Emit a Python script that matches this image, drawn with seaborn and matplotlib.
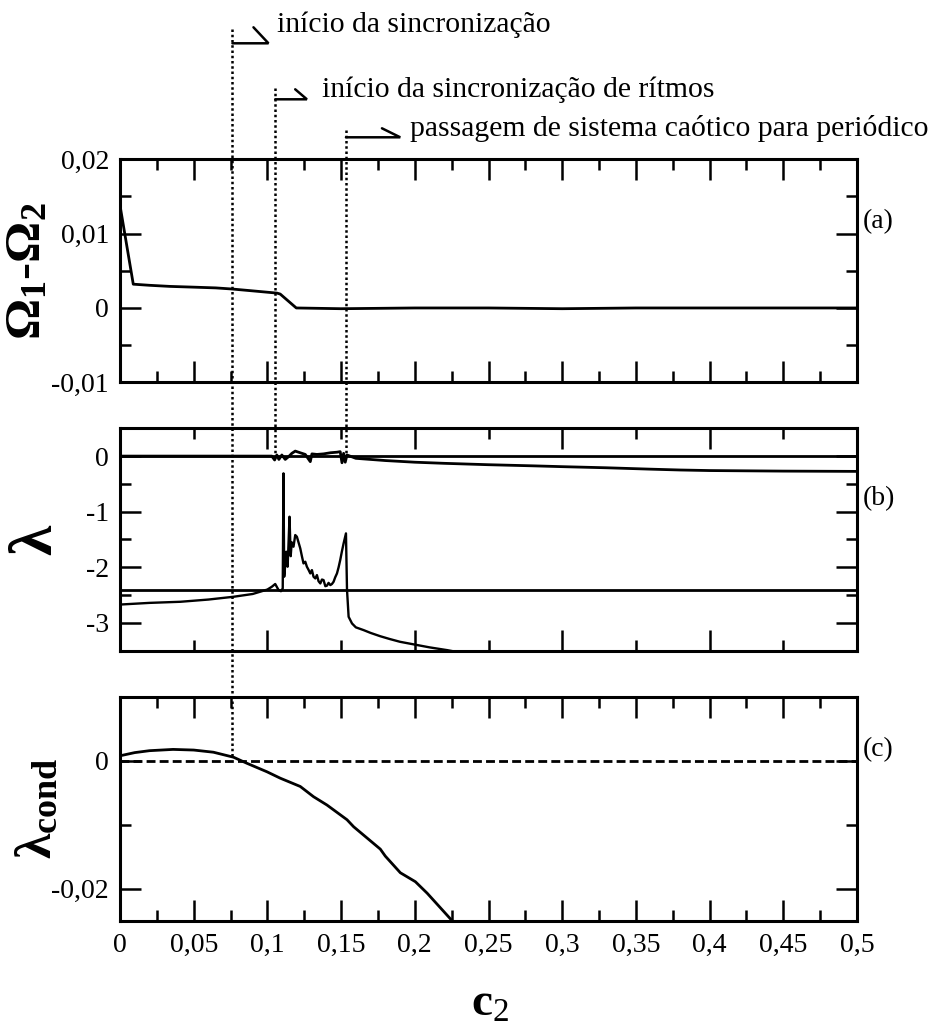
import numpy as np
import matplotlib
matplotlib.use("Agg")
import matplotlib.pyplot as plt
from matplotlib.lines import Line2D
from matplotlib.ticker import MultipleLocator, FuncFormatter
from matplotlib.transforms import blended_transform_factory
import seaborn as sns

# ---------------- data ----------------
# (a) frequency difference Omega1 - Omega2 versus coupling c2
c_a = [0.0, 0.009, 0.02, 0.034, 0.05, 0.065, 0.076, 0.09, 0.1065, 0.1087, 0.1196,
       0.15, 0.2, 0.25, 0.3, 0.35, 0.4, 0.45, 0.5]
omega_diff = [0.0138, 0.0032, 0.00305, 0.0029, 0.0028, 0.0027, 0.00255, 0.0023, 0.0020,
              0.00187, 0.0, -0.0001, 0.0, 0.0, -0.0001, 0.0, 0.0, 0.0, 0.0]

# (b) Lyapunov exponents
c_lam1 = [0.0, 0.103, 0.1049, 0.1064, 0.1078, 0.1098, 0.1121, 0.1144, 0.1166, 0.1189,
          0.1211, 0.1234, 0.1257, 0.1291, 0.1302, 0.1336, 0.1381, 0.1427, 0.1472,
          0.1494, 0.1506, 0.1517, 0.1528, 0.1540, 0.16, 0.17, 0.18, 0.2, 0.22, 0.25,
          0.28, 0.3, 0.33, 0.36, 0.38, 0.4, 0.45, 0.5]
lam1 = [0.0, 0.0, -0.07, 0.02, -0.06, 0.02, -0.06, -0.01, 0.05, 0.09,
        0.07, 0.05, 0.03, -0.10, 0.04, 0.03, 0.04, 0.06, 0.07,
        0.08, -0.12, 0.05, -0.11, 0.02, -0.04, -0.06, -0.08, -0.11, -0.13, -0.155,
        -0.175, -0.19, -0.21, -0.235, -0.25, -0.26, -0.27, -0.275]

c_lam2 = [0.0, 0.02, 0.041, 0.06, 0.077, 0.09, 0.095, 0.1, 0.103, 0.1053, 0.1076,
          0.1092, 0.1104, 0.1109, 0.1114, 0.1121, 0.1128, 0.1137, 0.1143, 0.1150,
          0.1158, 0.1165, 0.1177, 0.1189, 0.1200, 0.1211, 0.1223, 0.1234, 0.1245,
          0.1257, 0.1268, 0.1280, 0.1291, 0.1302, 0.1313, 0.1325, 0.1336, 0.1347,
          0.1359, 0.1370, 0.1381, 0.1393, 0.1404, 0.1415, 0.1427, 0.1438, 0.1449,
          0.1460, 0.1472, 0.1483, 0.1494, 0.1505, 0.1517, 0.1533, 0.1540, 0.1551,
          0.1574, 0.1600, 0.1653, 0.1700, 0.1766, 0.1830, 0.1900, 0.2020, 0.2100,
          0.2220, 0.2300]
lam2 = [-2.67, -2.64, -2.62, -2.58, -2.53, -2.48, -2.44, -2.40, -2.35, -2.30, -2.41,
        -2.43, -2.38, -0.31, -2.17, -1.95, -1.72, -1.99, -1.60, -1.09,
        -1.80, -1.55, -1.63, -1.42, -1.45, -1.55, -1.66, -1.80, -1.93,
        -1.90, -1.99, -2.05, -2.11, -2.05, -2.17, -2.20, -2.14, -2.25,
        -2.29, -2.22, -2.23, -2.34, -2.33, -2.28, -2.32, -2.30, -2.26,
        -2.18, -2.11, -2.00, -1.87, -1.72, -1.57, -1.39, -2.40, -2.89,
        -3.01, -3.08, -3.13, -3.18, -3.24, -3.29, -3.34, -3.40, -3.44,
        -3.49, -3.53]

# constant exponents drawn across panel (b)
lam_zero = 0.0
lam_ref = -2.4

# (c) conditional Lyapunov exponent
c_cond = [0.0, 0.01, 0.02, 0.036, 0.05, 0.0634, 0.077, 0.086, 0.0997, 0.1087, 0.1223,
          0.1313, 0.1404, 0.1540, 0.1585, 0.1766, 0.1800, 0.1902, 0.2004, 0.2084,
          0.2253, 0.2300]
lam_cond = [0.0008, 0.0013, 0.0016, 0.0018, 0.0017, 0.00136, 0.00058, -0.00036,
            -0.0017, -0.0027, -0.0040, -0.0056, -0.0069, -0.0092, -0.0103, -0.0138,
            -0.0149, -0.0175, -0.0189, -0.0207, -0.0250, -0.0262]
lam_cond_zero = 0.0

# transition points on the c2 axis and their notes
c_marks = [0.0763, 0.1053, 0.1533]
mark_texts = ["início da sincronização",
              "início da sincronização de rítmos",
              "passagem de sistema caótico para periódico"]

x_ticks = [0, 0.05, 0.1, 0.15, 0.2, 0.25, 0.3, 0.35, 0.4, 0.45, 0.5]

# ---------------- style ----------------
sns.set_theme(style="ticks")
SERIF = ["Liberation Serif", "DejaVu Serif"]
plt.rcParams["font.family"] = SERIF
plt.rcParams["mathtext.fontset"] = "custom"
plt.rcParams["mathtext.rm"] = "Liberation Serif"
plt.rcParams["mathtext.bf"] = "Liberation Serif:bold"
plt.rcParams["mathtext.it"] = "Liberation Serif:italic"
plt.rcParams["axes.unicode_minus"] = False

W, H, DPI = 932, 1025, 100
fig = plt.figure(figsize=(W / DPI, H / DPI), dpi=DPI)

LEFT, RIGHT = 120, 857


def px_axes(top, bottom):
    return fig.add_axes([LEFT / W, 1 - bottom / H, (RIGHT - LEFT) / W, (bottom - top) / H])


ax_a = px_axes(159.3, 382.3)
ax_b = px_axes(428.3, 650.7)
ax_c = px_axes(697.0, 920.7)

comma = FuncFormatter(lambda v, _: f"{v:g}".replace(".", ","))
LW = 2.0

# (a)
sns.lineplot(x=c_a, y=omega_diff, ax=ax_a, color="black", linewidth=LW,
             sort=False, estimator=None)
ax_a.set_ylim(-0.01, 0.02)
ax_a.yaxis.set_major_locator(MultipleLocator(0.01))
ax_a.yaxis.set_minor_locator(MultipleLocator(0.005))

# (b)
ax_b.axhline(lam_zero, color="black", linewidth=LW)
ax_b.axhline(lam_ref, color="black", linewidth=LW)
sns.lineplot(x=c_lam1, y=lam1, ax=ax_b, color="black", linewidth=LW,
             sort=False, estimator=None)
sns.lineplot(x=c_lam2, y=lam2, ax=ax_b, color="black", linewidth=LW * 0.85,
             sort=False, estimator=None)
ax_b.set_ylim(-3.5, 0.5)
ax_b.yaxis.set_major_locator(MultipleLocator(1))
ax_b.yaxis.set_minor_locator(MultipleLocator(0.5))

# (c)
ax_c.axhline(lam_cond_zero, color="black", linewidth=LW, linestyle=(0, (3.2, 1.5)))
sns.lineplot(x=c_cond, y=lam_cond, ax=ax_c, color="black", linewidth=LW,
             sort=False, estimator=None)
ax_c.set_ylim(-0.025, 0.01)
ax_c.yaxis.set_major_locator(MultipleLocator(0.02))
ax_c.yaxis.set_minor_locator(MultipleLocator(0.01))

for ax in (ax_a, ax_b, ax_c):
    ax.set_xlim(0, 0.5)
    ax.set_xlabel("")
    ax.set_ylabel("")
    if ax is ax_b:
        ax.xaxis.set_major_locator(MultipleLocator(0.1))
        ax.xaxis.set_minor_locator(MultipleLocator(0.05))
    else:
        ax.xaxis.set_major_locator(MultipleLocator(0.05))
        ax.xaxis.set_minor_locator(MultipleLocator(0.025))
    ax.yaxis.set_major_formatter(comma)
    ax.tick_params(which="both", direction="in", top=True, right=True,
                   labelbottom=False, colors="black", labelsize=20, width=1.8, pad=8)
    ax.tick_params(which="major", length=15)
    ax.tick_params(which="minor", length=8)
    for s in ax.spines.values():
        s.set_linewidth(2.2)
        s.set_color("black")
    ax.set_facecolor("white")

ax_c.set_xticks(x_ticks)
ax_c.xaxis.set_major_formatter(comma)
ax_c.tick_params(axis="x", labelbottom=True, pad=9)

# panel tags
for ax, tag, yfrac in ((ax_a, "(a)", 0.72), (ax_b, "(b)", 0.685), (ax_c, "(c)", 0.765)):
    ax.text(1.008, yfrac, tag, transform=ax.transAxes, ha="left", va="center",
            fontsize=20, color="black")

# axis titles
ax_a.text(-0.125, 0.5, r"$\mathbf{\Omega_1}$-$\mathbf{\Omega_2}$",
          transform=ax_a.transAxes, rotation=90, ha="center", va="center",
          fontsize=37, fontweight="bold", color="black")
ax_b.text(-0.112, 0.5, r"$\mathbf{\lambda}$", transform=ax_b.transAxes, rotation=90,
          ha="center", va="center", fontsize=44, color="black")
ax_c.text(-0.11, 0.5, r"$\mathbf{\lambda_{cond}}$", transform=ax_c.transAxes,
          rotation=90, ha="center", va="center", fontsize=37, color="black")
fig.text(490 / W, 1 - 1004 / H, r"$\mathbf{c}_\mathrm{2}$", ha="center", va="center",
         fontsize=34, color="black")

# vertical markers running across the panels, with harpoon pointers and notes
to_fig = fig.transFigure.inverted()


def fig_y(ax, val):
    return to_fig.transform(ax.transData.transform((0, val)))[1]


xmix = blended_transform_factory(ax_a.transData, fig.transFigure)
line_tops = [29.3, 88.3, 130.0]
shaft_y = [43.3, 99.3, 137.3]
shaft_len = [36.0, 31.7, 54.3]
barb = [(15.0, 16.0), (11.7, 10.0), (18.3, 9.0)]
text_pos = [(276.7, 31.7), (321.7, 96.7), (410.0, 136.5)]
ends = [fig_y(ax_c, float(np.interp(c_marks[0], c_cond, lam_cond))),
        fig_y(ax_b, lam_zero), fig_y(ax_b, lam_zero)]

for i, c in enumerate(c_marks):
    fig.add_artist(Line2D([c, c], [1 - line_tops[i] / H, ends[i]], transform=xmix,
                          color="black", linewidth=1.8, linestyle=(0, (1, 1.1))))
    x0 = ax_a.transData.transform((c, 0))[0]
    x1 = x0 + shaft_len[i]
    ys = H - shaft_y[i]
    bx, by = barb[i]
    fig.add_artist(Line2D([x0, x1, x1 - bx], [ys, ys, ys + by], transform=None,
                          color="black", linewidth=1.8, solid_joinstyle="miter"))
    tx, ty = text_pos[i]
    fig.text(tx / W, 1 - ty / H, mark_texts[i], ha="left", va="baseline",
             fontsize=21.3, color="black")

fig.savefig("out.png", dpi=DPI, facecolor="white")
